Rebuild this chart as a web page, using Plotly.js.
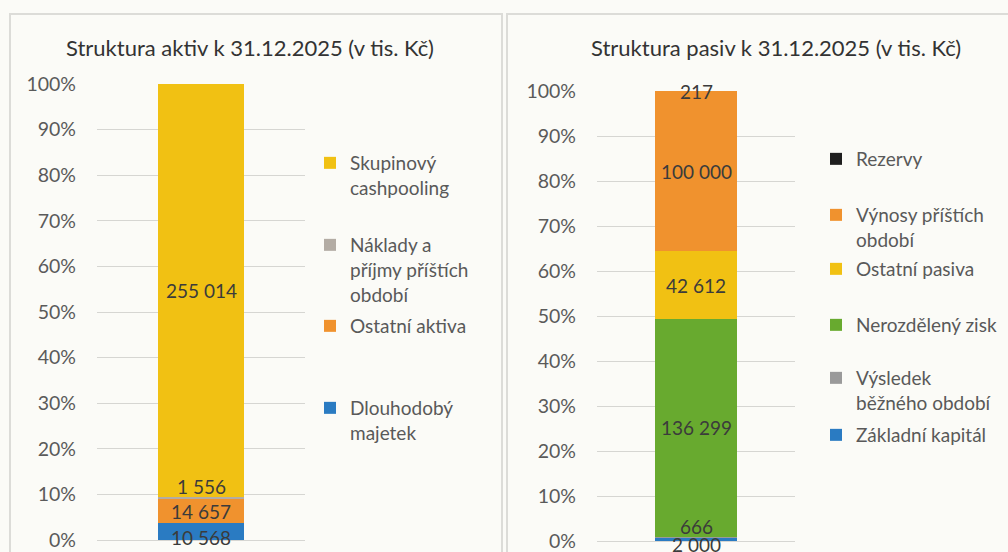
<!DOCTYPE html>
<html>
<head>
<meta charset="utf-8">
<script src="https://cdn.plot.ly/plotly-3.0.1.min.js"></script>
<style>
html,body{margin:0;padding:0;background:#fbfbf7;}
#chart{width:1008px;height:552px;}
</style>
</head>
<body>
<div id="chart"></div>
<script>
// ---------- DATA ----------
const aktivaTitle = 'Struktura aktiv k 31.12.2025 (v tis. Kč)';
const aktivaCategories = ['Dlouhodobý majetek', 'Ostatní aktiva', 'Náklady a příjmy příštích období', 'Skupinový cashpooling'];
const aktivaLegendLabels = ['Dlouhodobý<br>majetek', 'Ostatní aktiva', 'Náklady a<br>příjmy příštích<br>období', 'Skupinový<br>cashpooling'];
const aktivaValues = [10568, 14657, 1556, 255014];

const pasivaTitle = 'Struktura pasiv k 31.12.2025 (v tis. Kč)';
const pasivaCategories = ['Základní kapitál', 'Výsledek běžného období', 'Nerozdělený zisk', 'Ostatní pasiva', 'Výnosy příštích období', 'Rezervy'];
const pasivaLegendLabels = ['Základní kapitál', 'Výsledek<br>běžného období', 'Nerozdělený zisk', 'Ostatní pasiva', 'Výnosy příštích<br>období', 'Rezervy'];
const pasivaValues = [2000, 666, 136299, 42612, 100000, 217];

const tickValues = [0, 0.1, 0.2, 0.3, 0.4, 0.5, 0.6, 0.7, 0.8, 0.9, 1.0];
const tickLabels = ['0%', '10%', '20%', '30%', '40%', '50%', '60%', '70%', '80%', '90%', '100%'];

// ---------- STYLE ----------
const aktivaColors = ['#2a7bc2', '#f0922e', '#b3aca4', '#f1c113'];
const pasivaColors = ['#2a7bc2', '#9a9a9a', '#68aa2f', '#f1c113', '#f0922e', '#1e1e1e'];
const aktivaLabelShift = [-6, 0, 11, 0];
const pasivaLabelShift = [-5, 11, 0, 0, 0, 0];
const aktivaLegendCenters = [408, 326, 245, 163];   // px from top, first text line
const pasivaLegendCenters = [435, 378, 325, 269, 215, 159];
const FONT = 'Lato, "Open Sans", sans-serif';
const W = 1008, H = 552;

function fmt(v) { return String(v).replace(/\B(?=(\d{3})+(?!\d))/g, ' '); }

const traces = [];
const annotations = [];
const layout = {
  width: W, height: H,
  margin: {l: 0, r: 0, t: 0, b: 0},
  paper_bgcolor: '#fbfbf7',
  plot_bgcolor: 'rgba(0,0,0,0)',
  barmode: 'stack',
  barnorm: 'fraction',
  hovermode: false,
  font: {family: FONT, color: '#595959'},
  shapes: [
    {type: 'rect', xref: 'paper', yref: 'paper', x0: 10/W, x1: 502/W, y0: -0.05, y1: 1 - 14/H,
     line: {color: '#dcdcd8', width: 2}, fillcolor: 'rgba(0,0,0,0)'},
    {type: 'rect', xref: 'paper', yref: 'paper', x0: 507/W, x1: 1.05, y0: -0.05, y1: 1 - 14/H,
     line: {color: '#dcdcd8', width: 2}, fillcolor: 'rgba(0,0,0,0)'}
  ],
  annotations: annotations
};

function axisY(domain) {
  return {
    domain: domain, range: [0, 1], tickvals: tickValues, ticktext: tickLabels,
    showgrid: true, gridcolor: '#d6d6d2', gridwidth: 1,
    zeroline: true, zerolinecolor: '#d6d6d2', zerolinewidth: 1,
    showline: false, ticks: '', ticklabelstandoff: 20,
    tickfont: {family: FONT, size: 19.5, color: '#5a5a5a'}, fixedrange: true
  };
}
function axisX(domain) {
  return {domain: domain, range: [-0.5, 0.5], showticklabels: false, showgrid: false,
          zeroline: false, showline: false, ticks: '', fixedrange: true, type: 'linear'};
}
layout.xaxis = axisX([97/W, 305/W]);
layout.yaxis = axisY([12/H, 468/H]);
layout.xaxis2 = axisX([597/W, 795/W]);
layout.yaxis2 = axisY([11/H, 461/H]);
layout.yaxis2.anchor = 'x2';
layout.xaxis2.anchor = 'y2';

let legendIndex = 0;
function addChart(values, names, legendLabels, colors, shifts, centers, xa, ya, barWidth) {
  const total = values.reduce((a, b) => a + b, 0);
  let cum = 0;
  values.forEach((v, i) => {
    legendIndex++;
    const lgName = legendIndex === 1 ? 'legend' : 'legend' + legendIndex;
    traces.push({
      type: 'bar', x: [0], y: [v], width: barWidth, name: legendLabels[i],
      marker: {color: colors[i], line: {width: 0}},
      xaxis: xa, yaxis: ya, legend: lgName, hoverinfo: 'skip', showlegend: true
    });
    layout[lgName] = {
      x: (xa === 'x' ? 310 : 816) / W, xanchor: 'left',
      y: 1 - (centers[i] - 19) / H, yanchor: 'top',
      bgcolor: 'rgba(0,0,0,0)', borderwidth: 0, valign: 'top',
      font: {family: FONT, size: 19, color: '#595959'},
      itemclick: false, itemdoubleclick: false, tracegroupgap: 0
    };
    annotations.push({
      xref: xa, yref: ya, x: 0, y: (cum + v / 2) / total, yshift: shifts[i],
      text: fmt(v), showarrow: false,
      font: {family: FONT, size: 19, color: '#3b3b3b'}
    });
    cum += v;
  });
}
addChart(aktivaValues, aktivaCategories, aktivaLegendLabels, aktivaColors, aktivaLabelShift, aktivaLegendCenters, 'x', 'y', 0.41);
addChart(pasivaValues, pasivaCategories, pasivaLegendLabels, pasivaColors, pasivaLabelShift, pasivaLegendCenters, 'x2', 'y2', 0.41);

annotations.push({xref: 'paper', yref: 'paper', x: 250/W, y: 1 - 47/H, text: aktivaTitle, showarrow: false,
  font: {family: FONT, size: 22, color: '#333333'}, xanchor: 'center', yanchor: 'middle'});
annotations.push({xref: 'paper', yref: 'paper', x: 776/W, y: 1 - 48/H, text: pasivaTitle, showarrow: false,
  font: {family: FONT, size: 22, color: '#333333'}, xanchor: 'center', yanchor: 'middle'});

Plotly.newPlot('chart', traces, layout, {staticPlot: true, displayModeBar: false});
</script>
</body>
</html>
